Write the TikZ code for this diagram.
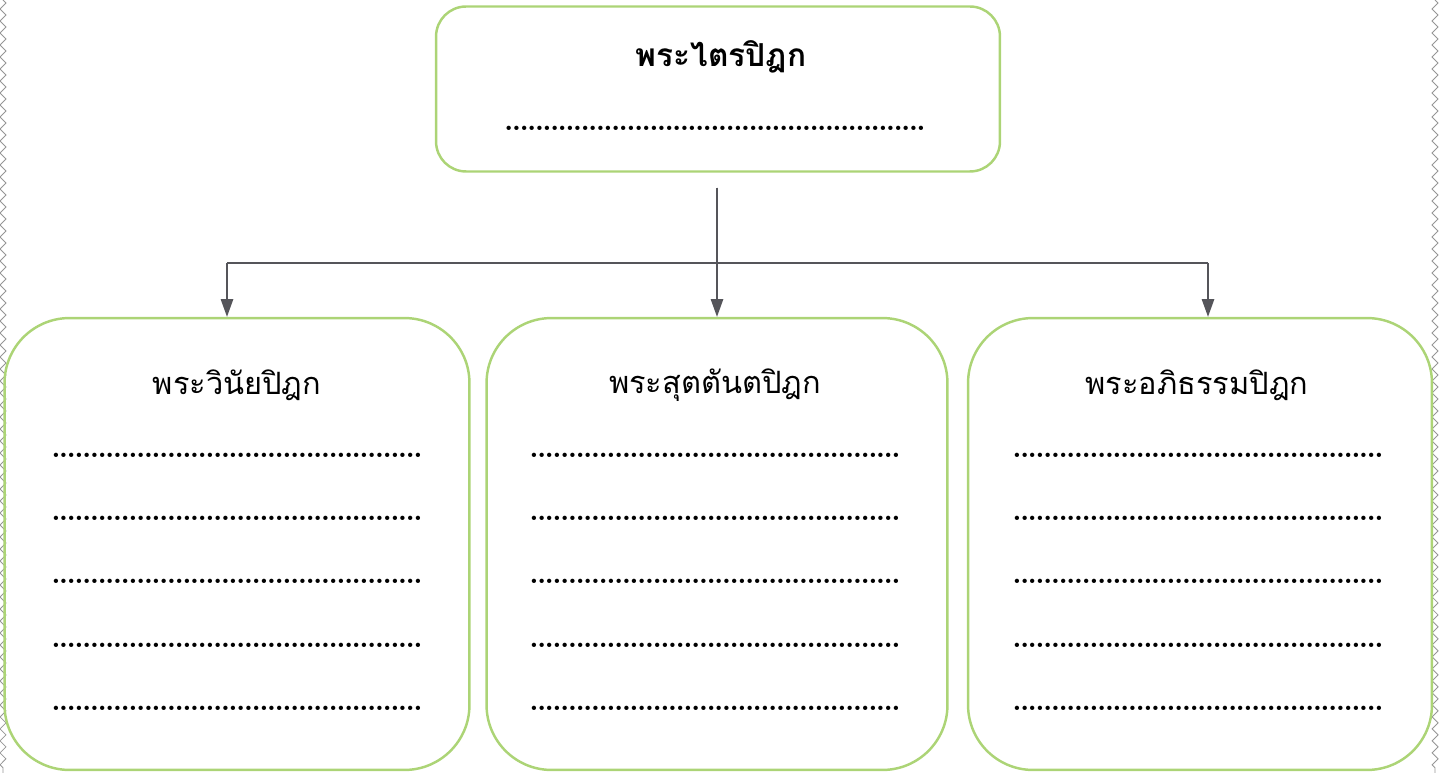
\documentclass[tikz,border=0pt]{standalone}
\usepackage{fontspec}
\usepackage{tikz}
\usetikzlibrary{arrows.meta,positioning,calc,decorations.pathmorphing}
\newfontfamily\thaifont[Script=Thai]{Loma}
\definecolor{boxgreen}{RGB}{172,212,118}
\definecolor{linkgray}{RGB}{85,85,90}
\definecolor{edgegray}{RGB}{150,150,150}
\newcommand{\dotrule}[1]{\hbox to #1{\xleaders\hbox to 4.3pt{\hss.\hss}\hfill}}
\tikzset{
    pitaka/.style={rectangle, draw=boxgreen, line width=1.4pt, rounded corners=#1},
    head/.style={font=\thaifont\fontsize{17.5}{21}\selectfont, inner sep=0pt},
    dotrow/.style={font=\bfseries\fontsize{17}{19}\selectfont, inner sep=0pt},
    arr/.style={-{Triangle[length=10pt,width=7pt]}, line width=0.8pt, draw=linkgray, fill=linkgray},
    link/.style={line width=0.8pt, draw=linkgray},
    edge/.style={edgegray, line width=0.5pt, decorate,
                 decoration={zigzag, segment length=0.24cm, amplitude=0.06cm}},
}

\begin{document}
\begin{tikzpicture}[x=0.02cm, y=-0.02cm]
    \useasboundingbox (0,0) rectangle (1439,773);
    % page edges
    \draw[edge] (3,0) -- (3,773);
    \draw[edge] (1435,0) -- (1435,773);

    % boxes
    \node[pitaka=0.6cm, minimum width=11.28cm, minimum height=3.3cm]   (tripitaka)  at (718,89)   {};
    \node[pitaka=1.3cm, minimum width=9.3cm, minimum height=9.04cm]    (vinaya)     at (237,544)  {};
    \node[pitaka=1.3cm, minimum width=9.22cm, minimum height=9.04cm]   (sutta)      at (717,544)  {};
    \node[pitaka=1.3cm, minimum width=9.28cm, minimum height=9.04cm]   (abhidhamma) at (1200,544) {};

    % titles
    \node[head, font=\thaifont\bfseries\fontsize{18}{21}\selectfont] (tripitakaT) at (721,57) {พระไตรปิฎก};
    \node[dotrow] (tripitakaD) at (715,128) {\dotrule{8.4cm}};
    \node[head] (vinayaT)     at (237,385)  {พระวินัยปิฎก};
    \node[head] (suttaT)      at (715,385)  {พระสุตตันตปิฎก};
    \node[head] (abhidhammaT) at (1197,385) {พระอภิธรรมปิฎก};

    % blank lines
    \foreach \b/\x in {vinaya/237, sutta/715, abhidhamma/1198}
        \foreach \r/\y in {1/455, 2/518, 3/581, 4/645, 5/708}
            \node[dotrow] (\b D\r) at (\x,\y) {\dotrule{7.4cm}};

    % connectors
    \coordinate (brL) at (227,263);
    \coordinate (brR) at (1208,263);
    \draw[arr, shorten <=0.3cm] (tripitaka.south -| sutta.north) -- (sutta.north);
    \draw[link] (brL) -- (brR);
    \draw[arr] (brL) -- (brL |- vinaya.north);
    \draw[arr] (brR) -- (brR |- abhidhamma.north);
\end{tikzpicture}
\end{document}
